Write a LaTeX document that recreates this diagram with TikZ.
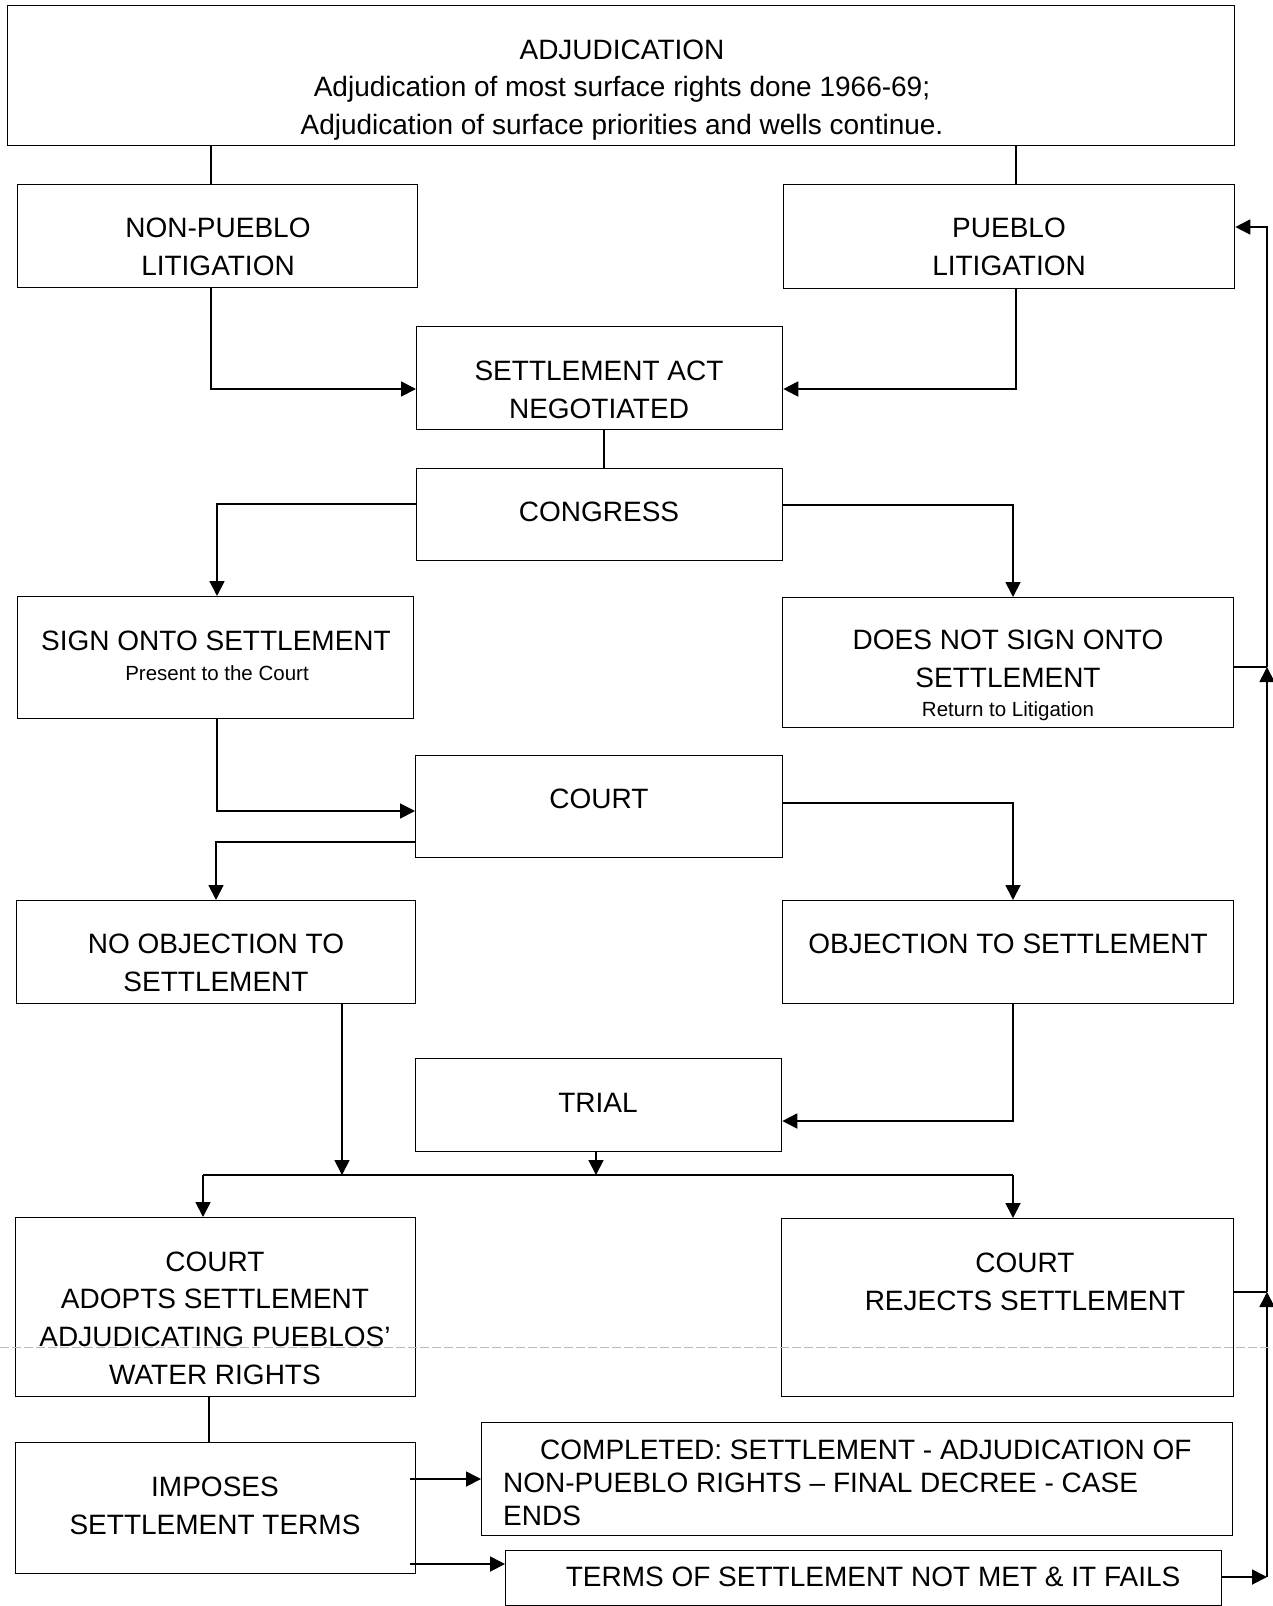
\documentclass[tikz,border=0pt]{standalone}
\usepackage{fontspec}
\setmainfont{Liberation Sans}
\usetikzlibrary{arrows.meta,calc}
\begin{document}
\begin{tikzpicture}[x=1pt,y=-1pt,
  box/.style={draw, line width=1.3pt, inner sep=0pt, anchor=north west},
  lbl/.style={font=\fontsize{28}{37.7}\selectfont, align=center, inner sep=0pt},
  small/.style={font=\fontsize{20.5}{24}\selectfont, inner sep=0pt},
  link/.style={line width=1.3pt},
  arr/.style={line width=1.8pt, -{Triangle[length=15pt,width=15pt]}},
  scanline/.style={gray!55, line width=0.8pt, dash pattern=on 9pt off 3pt}
]
\useasboundingbox (0,0) rectangle (1273,1606);

% boxes
\node[box, minimum width=1227pt, minimum height=140pt] (adj) at (7,5) {};
\node[box, minimum width=400pt, minimum height=103pt] (np) at (17,184) {};
\node[box, minimum width=451pt, minimum height=104pt] (pb) at (783,184) {};
\node[box, minimum width=366pt, minimum height=103pt] (sa) at (416,326) {};
\node[box, minimum width=366pt, minimum height=92pt] (cg) at (416,468) {};
\node[box, minimum width=396pt, minimum height=122pt] (sign) at (17,596) {};
\node[box, minimum width=451pt, minimum height=130pt] (dns) at (782,597) {};
\node[box, minimum width=367pt, minimum height=102pt] (court) at (415,755) {};
\node[box, minimum width=399pt, minimum height=103pt] (noobj) at (16,900) {};
\node[box, minimum width=451pt, minimum height=103pt] (obj) at (782,900) {};
\node[box, minimum width=366pt, minimum height=93pt] (trial) at (415,1058) {};
\node[box, minimum width=400pt, minimum height=179pt] (adopt) at (15,1217) {};
\node[box, minimum width=452pt, minimum height=178pt] (rej) at (781,1218) {};
\node[box, minimum width=400pt, minimum height=131pt] (imp) at (15,1442) {};
\node[box, minimum width=751pt, minimum height=113pt] (comp) at (481,1422) {};
\node[box, minimum width=716pt, minimum height=55pt] (terms) at (505,1550) {};

% texts
\node[lbl] (tadj) at (622,90) {ADJUDICATION\\Adjudication of most surface rights done 1966-69;\\Adjudication of surface priorities and wells continue.};
\node[lbl] (tnp) at (218,247) {NON-PUEBLO\\LITIGATION};
\node[lbl] (tpb) at (1009,247) {PUEBLO\\LITIGATION};
\node[lbl] (tsa) at (599,390) {SETTLEMENT ACT\\NEGOTIATED};
\node[lbl] (tcg) at (599,512) {CONGRESS};
\node[lbl] (tsign) at (216,641) {SIGN ONTO SETTLEMENT};
\node[small] (tsign2) at (217,673) {Present to the Court};
\node[lbl] (tdns) at (1008,659) {DOES NOT SIGN ONTO\\SETTLEMENT};
\node[small] (tdns2) at (1008,711) {Return to Litigation};
\node[lbl] (tcourt) at (599,799) {COURT};
\node[lbl] (tno) at (216,963) {NO OBJECTION TO\\SETTLEMENT};
\node[lbl] (tobj) at (1008,944) {OBJECTION TO SETTLEMENT};
\node[lbl] (ttrial) at (598,1103) {TRIAL};
\node[lbl] (tadopt) at (215,1318) {COURT\\ADOPTS SETTLEMENT\\ADJUDICATING PUEBLOS’\\WATER RIGHTS};
\node[lbl] (trej) at (1025,1282) {COURT\\REJECTS SETTLEMENT};
\node[lbl] (timp) at (215,1506) {IMPOSES\\SETTLEMENT TERMS};
\node[lbl, font=\fontsize{28}{32.8}\selectfont, align=left, anchor=west] (tcomp) at (503,1483) {\hspace*{37pt}COMPLETED: SETTLEMENT - ADJUDICATION OF\\NON-PUEBLO RIGHTS – FINAL DECREE - CASE\\ENDS};
\node[lbl] (tterms) at (873,1577) {TERMS OF SETTLEMENT NOT MET \& IT FAILS};

% column / row helpers
\coordinate (vA) at (211,0);
\coordinate (vB) at (1016,0);
\coordinate (vC) at (604,0);
\coordinate (vL) at (217,0);
\coordinate (vR) at (1013,0);
\coordinate (vN) at (216,0);
\coordinate (vO) at (342,0);
\coordinate (vT) at (596,0);
\coordinate (vI) at (209,0);
\coordinate (hS) at (0,389);
\coordinate (hC1) at (0,504);
\coordinate (hC2) at (0,505);
\coordinate (hCt) at (0,811);
\coordinate (hCl) at (0,842);
\coordinate (hCr) at (0,803);
\coordinate (hTr) at (0,1121);
\coordinate (bar1) at (203,1175);
\coordinate (bar2) at (1013,1175);
\coordinate (h1) at (0,1479);
\coordinate (h2) at (0,1564);
\coordinate (iR) at (410,0);
\coordinate (fT) at (1267,1577);
\coordinate (fR) at (1267,1292);
\coordinate (fD) at (1267,667);
\coordinate (fP) at (1267,227);

% connectors
\draw[link] (adj.south -| vA) -- (np.north -| vA);
\draw[link] (adj.south -| vB) -- (pb.north -| vB);
\draw[arr] (np.south -| vA) |- (sa.west |- hS);
\draw[arr] (pb.south -| vB) |- (sa.east |- hS);
\draw[link] (sa.south -| vC) -- (cg.north -| vC);
\draw[arr] (cg.west |- hC1) -| (sign.north -| vL);
\draw[arr] (cg.east |- hC2) -| (dns.north -| vR);
\draw[arr] (sign.south -| vL) |- (court.west |- hCt);
\draw[arr] (court.west |- hCl) -| (noobj.north -| vN);
\draw[arr] (court.east |- hCr) -| (obj.north -| vR);
\draw[arr] (obj.south -| vR) |- (trial.east |- hTr);
\draw[arr] (noobj.south -| vO) -- (bar1 -| vO);
\draw[arr] (trial.south -| vT) -- (bar1 -| vT);
\draw[link] (bar1) -- (bar2);
\draw[arr] (bar1) -- (adopt.north -| bar1);
\draw[arr] (bar2) -- (rej.north -| bar2);
\draw[link] (adopt.south -| vI) -- (imp.north -| vI);
\draw[arr] (iR |- h1) -- (comp.west |- h1);
\draw[arr] (iR |- h2) -- (terms.west |- h2);
\draw[arr] (terms.east |- fT) -- (fT);
\draw[arr] (fT) -- (fR);
\draw[link] (rej.east |- fR) -- (fR);
\draw[arr] (fR) -- (fD);
\draw[link] (dns.east |- fD) -- (fD);
\draw[arr] (fD) -- (fP) -- (pb.east |- fP);

% scan artefact line
\draw[scanline] (0,1347) -- (1272,1347);
\end{tikzpicture}
\end{document}
